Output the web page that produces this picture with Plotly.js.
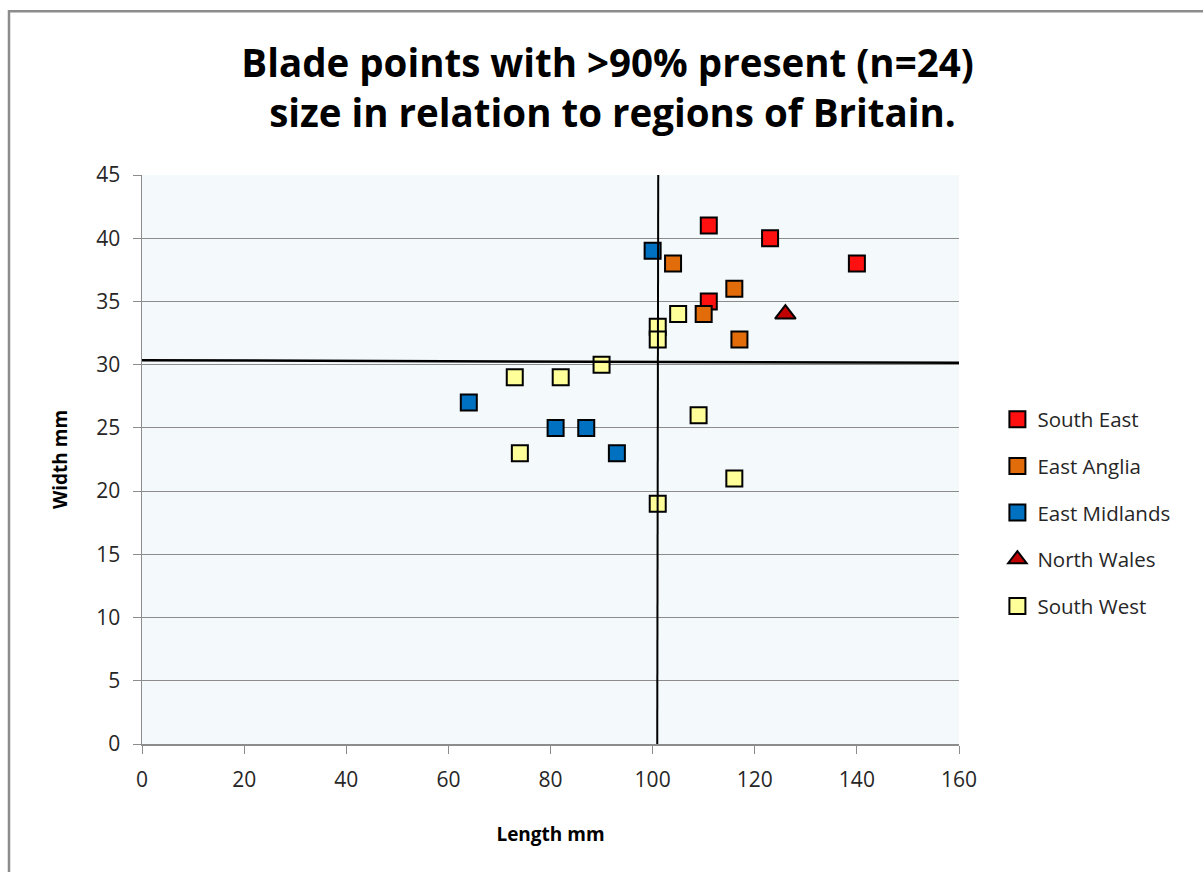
<!DOCTYPE html>
<html>
<head>
<meta charset="utf-8">
<script src="https://cdn.plot.ly/plotly-3.0.1.min.js"></script>
<style>
  body { margin: 0; background: #fff; }
  #chart { width: 1203px; height: 872px; }
</style>
</head>
<body>
<div id="chart"></div>
<script>
// Blade point sizes (length, width in mm) by region
const southEastX = [111, 123, 140, 111];
const southEastY = [41, 40, 38, 35];
const eastAngliaX = [104, 116, 110, 117];
const eastAngliaY = [38, 36, 34, 32];
const eastMidlandsX = [100, 64, 81, 87, 93];
const eastMidlandsY = [39, 27, 25, 25, 23];
const northWalesX = [126];
const northWalesY = [34];
const southWestX = [105, 101, 101, 90, 73, 82, 109, 74, 116, 101];
const southWestY = [34, 33, 32, 30, 29, 29, 26, 23, 21, 19];

// hand drawn dividing lines
const hLineX = [-0.8, 160.6];
const hLineY = [30.35, 30.15];
const vLineX = [101.1, 100.9];
const vLineY = [45.6, -0.5];

const xTicks = [0, 20, 40, 60, 80, 100, 120, 140, 160];

function squares(name, x, y, color) {
  return {
    name: name, x: x, y: y, type: 'scatter', mode: 'markers',
    legendgroup: name,
    marker: { symbol: 'square', size: 16, color: color, line: { color: '#000', width: 2 } }
  };
}

var data = [
  squares('South East', southEastX, southEastY, '#ff1010'),
  squares('East Anglia', eastAngliaX, eastAngliaY, '#e36c0a'),
  squares('East Midlands', eastMidlandsX, eastMidlandsY, '#0070c0'),
  {
    name: 'North Wales', x: northWalesX, y: northWalesY, type: 'scatter', mode: 'markers',
    legendgroup: 'North Wales',
    marker: { symbol: 'triangle-up', size: 18, color: '#c00000', line: { color: '#000', width: 2 } }
  },
  squares('South West', southWestX, southWestY, '#ffff99'),
  { x: hLineX, y: hLineY, type: 'scatter', mode: 'lines', showlegend: false, hoverinfo: 'skip',
    line: { color: '#000', width: 2.5 } },
  { x: vLineX, y: vLineY, type: 'scatter', mode: 'lines', showlegend: false, hoverinfo: 'skip',
    line: { color: '#000', width: 2 } }
];

var layout = {
  width: 1203,
  height: 872,
  margin: { l: 142, r: 244, t: 175, b: 128 },
  paper_bgcolor: '#fff',
  plot_bgcolor: '#f4f9fc',
  font: { family: '"Open Sans", Lato, sans-serif', color: '#262626' },
  title: {
    text: '<b>Blade points with >90% present (n=24)<br> size in relation to regions of Britain.</b>',
    font: { size: 38.5, color: '#000' },
    x: 0.505, xref: 'container', xanchor: 'center',
    y: 0.912, yref: 'container', yanchor: 'middle'
  },
  xaxis: {
    range: [0, 160],
    tickvals: xTicks,
    showgrid: false,
    zeroline: false,
    showline: true, linecolor: '#8c8c8c', linewidth: 1.5,
    ticks: 'outside', ticklen: 8, tickcolor: '#8c8c8c',
    ticklabelstandoff: 8,
    tickfont: { size: 21 },
    title: { text: '<b>Length mm</b>', font: { size: 19, color: '#000' }, standoff: 36 }
  },
  yaxis: {
    range: [0, 45],
    dtick: 5,
    showgrid: true, gridcolor: '#8c8c8c', gridwidth: 1.2,
    zeroline: false,
    showline: true, linecolor: '#8c8c8c', linewidth: 1.5,
    ticks: 'outside', ticklen: 8, tickcolor: '#8c8c8c',
    ticklabelstandoff: 8,
    tickfont: { size: 21 },
    title: { text: '<b>Width mm</b>', font: { size: 19, color: '#000' }, standoff: 23 }
  },
  legend: {
    x: 1.047, xanchor: 'left',
    y: 0.406, yanchor: 'middle',
    font: { size: 20.5, color: '#262626' },
    tracegroupgap: 17,
    itemwidth: 30,
    bgcolor: 'rgba(0,0,0,0)'
  },
  shapes: [{
    type: 'rect', xref: 'paper', yref: 'paper',
    x0: -0.1628, x1: 1.4, y0: -0.4, y1: 1.288,
    line: { color: '#8c8c8c', width: 2.5 }, fillcolor: 'rgba(0,0,0,0)'
  }],
  showlegend: true,
  hovermode: false
};

Plotly.newPlot('chart', data, layout, { displayModeBar: false, staticPlot: true });
</script>
</body>
</html>
